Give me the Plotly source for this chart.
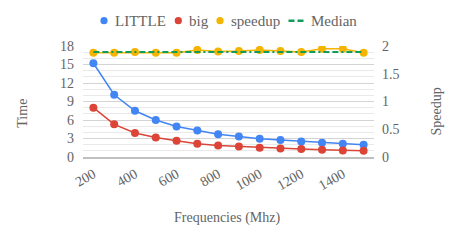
import plotly.graph_objects as go

freqs = [200, 300, 400, 500, 600, 700, 800, 900, 1000, 1100, 1200, 1300, 1400, 1500]
little = [15.2, 10.1, 7.5, 6.0, 4.95, 4.3, 3.7, 3.33, 2.96, 2.75, 2.53, 2.31, 2.15, 1.99]
big = [8.0, 5.3, 3.9, 3.17, 2.64, 2.15, 1.88, 1.72, 1.5, 1.39, 1.29, 1.18, 1.07, 1.02]
speedup = [1.88, 1.88, 1.89, 1.88, 1.88, 1.93, 1.90, 1.91, 1.93, 1.91, 1.89, 1.95, 1.95, 1.88]
median_val = 1.89
median = [median_val] * len(freqs)
xtick_vals = [200, 400, 600, 800, 1000, 1200, 1400]
ytick_vals = [0, 3, 6, 9, 12, 15, 18]
y2tick_vals = [0, 0.5, 1, 1.5, 2]
series_names = ["LITTLE", "big", "speedup", "Median"]

BLUE = "#4285F4"
RED = "#DB4437"
YELLOW = "#F4B400"
GREEN = "#0F9D58"
TXT = "#646464"
FONT = "Liberation Serif, Times New Roman, serif"
MEDDASH = "6px,3px,6px,3px,2px,3px"

# page body has an 8px margin, so the figure is drawn 8px in from the window corner
OFF = 8
W, H = 440, 224
ML, MR, MT, MB = 75, 74, 38, 75
PW = W - ML - MR
PH = H - MT - MB


def px(xr):
    # xr: pixel x in window coordinates
    return (xr - OFF - ML) / PW


def py(yr):
    return (H - MB - (yr - OFF)) / PH


fig = go.Figure()
fig.add_trace(go.Scatter(x=freqs, y=little, mode="lines+markers", name=series_names[0],
                         line=dict(color=BLUE, width=1.5), marker=dict(size=8, color=BLUE)))
fig.add_trace(go.Scatter(x=freqs, y=big, mode="lines+markers", name=series_names[1],
                         line=dict(color=RED, width=1.5), marker=dict(size=8, color=RED)))
fig.add_trace(go.Scatter(x=freqs, y=speedup, mode="lines+markers", name=series_names[2], yaxis="y2",
                         line=dict(color=YELLOW, width=1.5), marker=dict(size=8, color=YELLOW)))
fig.add_trace(go.Scatter(x=freqs, y=median, mode="lines", name=series_names[3], yaxis="y2",
                         line=dict(color=GREEN, width=2, dash=MEDDASH)))

# manual legend (pixel layout)
shapes = []
annotations = []
leg_y = 20.7
for name, c, mx, tx in [(series_names[0], BLUE, 104, 112.5), (series_names[1], RED, 178.3, 186.5),
                         (series_names[2], YELLOW, 220, 229)]:
    r = 3.6
    shapes.append(dict(type="circle", xref="paper", yref="paper",
                       x0=px(mx - r), x1=px(mx + r), y0=py(leg_y + r), y1=py(leg_y - r),
                       fillcolor=c, line=dict(width=0)))
    annotations.append(dict(text=name, x=px(tx), y=py(leg_y), xref="paper", yref="paper",
                            xanchor="left", yanchor="middle", showarrow=False,
                            font=dict(size=15, color=TXT)))
shapes.append(dict(type="line", xref="paper", yref="paper", x0=px(288.5), x1=px(305),
                   y0=py(leg_y), y1=py(leg_y), line=dict(color=GREEN, width=2.5, dash=MEDDASH)))
annotations.append(dict(text=series_names[3], x=px(309), y=py(leg_y), xref="paper", yref="paper",
                        xanchor="left", yanchor="middle", showarrow=False,
                        font=dict(size=15, color=TXT)))
annotations.append(dict(text="Time", x=px(21.7), y=py(113), xref="paper", yref="paper",
                        xanchor="center", yanchor="middle", textangle=-90, showarrow=False,
                        font=dict(size=14, color=TXT)))
annotations.append(dict(text="Speedup", x=px(436.5), y=py(112), xref="paper", yref="paper",
                        xanchor="center", yanchor="middle", textangle=-90, showarrow=False,
                        font=dict(size=14, color=TXT)))
annotations.append(dict(text="Frequencies (Mhz)", x=px(227), y=py(218), xref="paper", yref="paper",
                        xanchor="center", yanchor="middle", showarrow=False,
                        font=dict(size=14, color=TXT)))

fig.update_layout(
    width=W, height=H,
    margin=dict(l=ML, r=MR, t=MT, b=MB),
    paper_bgcolor="white", plot_bgcolor="white",
    font=dict(family=FONT, size=14, color=TXT),
    showlegend=False,
    shapes=shapes,
    annotations=annotations,
    xaxis=dict(range=[150, 1550], tickmode="array", tickvals=xtick_vals,
               tickangle=-30, showgrid=False, zeroline=False,
               showline=True, linecolor="#bfbfbf", linewidth=1.5, ticks="",
               ticklabelstandoff=2, tickfont=dict(size=14, color=TXT)),
    yaxis=dict(range=[0, 18], tickmode="array", tickvals=ytick_vals,
               showgrid=True, gridcolor="#d4d4d4", gridwidth=1, zeroline=False,
               minor=dict(dtick=1, showgrid=True, gridcolor="#e9e9e9", gridwidth=1),
               ticklabelstandoff=8, tickfont=dict(size=14, color=TXT)),
    yaxis2=dict(range=[0, 2], overlaying="y", side="right", tickmode="array",
                tickvals=y2tick_vals, showgrid=False, zeroline=False,
                ticklabelstandoff=7, tickfont=dict(size=14, color=TXT)),
)
fig.write_html("out.html")
